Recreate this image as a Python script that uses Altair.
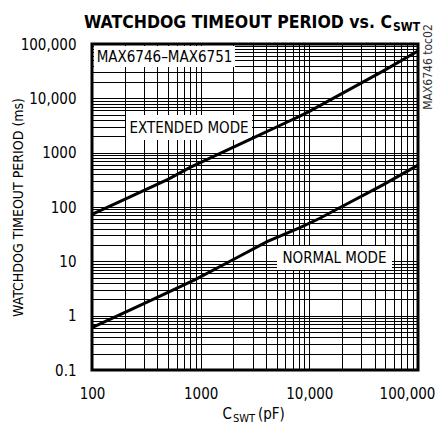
import altair as alt
import pandas as pd

# Extended mode curve (C in pF, timeout in ms)
ext_c = [100, 500, 800, 2850, 6200, 8200, 10100, 47600, 100000]
ext_t = [73, 322, 537, 1760, 3630, 4690, 5800, 31750, 74300]

# Normal mode curve
norm_c = [100, 356, 890, 1980, 4080, 8200, 12500, 19200, 47600, 100000]
norm_t = [0.6, 1.96, 4.6, 10.7, 23, 41.9, 62, 98, 255, 590]

x_decades = [100, 1000, 10000, 100000]
x_labels = ["100", "1000", "10,000", "100,000"]
y_decades = [0.1, 1, 10, 100, 1000, 10000, 100000]
y_labels = ["0.1", "1", "10", "100", "1000", "10,000", "100,000"]

FONT = "DejaVu Sans Condensed, Liberation Sans, sans-serif"


def grid_values(decades):
    vals = []
    for d in decades[:-1]:
        for m in range(1, 10):
            vals.append(round(d * m, 6))
    vals.append(decades[-1])
    return vals


def label_expr(vals, labels):
    parts = [f"datum.value == {v} ? '{l}'" for v, l in zip(vals, labels)]
    return " : ".join(parts) + " : ''"


df = pd.DataFrame({
    "c": ext_c + norm_c,
    "t": ext_t + norm_t,
    "mode": ["EXTENDED"] * len(ext_c) + ["NORMAL"] * len(norm_c),
})

x = alt.X("c:Q",
          scale=alt.Scale(type="log", domain=[100, 100000], nice=False),
          axis=alt.Axis(values=grid_values(x_decades),
                        labelExpr=label_expr(x_decades, x_labels),
                        grid=True, gridColor="black", gridWidth=1, gridOpacity=1,
                        ticks=False, domain=False, labelFlush=False, labelOverlap=False,
                        labelOffset={"condition": {"test": f"datum.value >= {x_decades[-1]}",
                                                   "value": -11}, "value": 0},
                        labelPadding=16, labelFontSize=15, labelFont=FONT,
                        labelColor="black", title=None))
y = alt.Y("t:Q",
          scale=alt.Scale(type="log", domain=[0.1, 100000], nice=False),
          axis=alt.Axis(values=grid_values(y_decades),
                        labelExpr=label_expr(y_decades, y_labels),
                        grid=True, gridColor="black", gridWidth=1, gridOpacity=1,
                        ticks=False, domain=False, labelFlush=False, labelOverlap=False,
                        labelPadding=16, labelFontSize=15, labelFont=FONT,
                        labelColor="black",
                        title="WATCHDOG TIMEOUT PERIOD (ms)",
                        titleFont=FONT, titleFontSize=14, titleFontWeight="normal",
                        titleColor="black", titleAngle=270, titleX=-74, titleY=163,
                        titleAlign="center", titleBaseline="middle"))

lines = alt.Chart(df).mark_line(color="black", strokeWidth=3).encode(
    x=x, y=y, detail="mode:N")

one = pd.DataFrame({"k": [0]})


def box(x1, x2, y1, y2):
    return alt.Chart(one).mark_rect(color="white").encode(
        x=alt.value(x1), x2=alt.value(x2), y=alt.value(y1), y2=alt.value(y2))


def txt(s, xp, yp, size=15, align="center", baseline="middle", weight="normal",
        angle=0, color="black"):
    return alt.Chart(pd.DataFrame({"s": [s]})).mark_text(
        font=FONT, fontSize=size, align=align, baseline=baseline,
        fontWeight=weight, angle=angle, color=color).encode(
        x=alt.value(xp), y=alt.value(yp), text="s:N")


layers = [
    box(2, 143, 2, 23), box(34, 160, 71, 96), box(185, 300, 202, 226),
    lines,
    txt("MAX6746\u2013MAX6751", 72.5, 13),
    txt("EXTENDED MODE", 97, 84),
    txt("NORMAL MODE", 242.5, 214),
    txt("MAX6746 toc02", 336, 23, size=12, angle=270, color="#333333"),
    txt("WATCHDOG TIMEOUT PERIOD vs. C", 300, -16, size=17.5, align="right",
        baseline="alphabetic", weight="bold"),
    txt("SWT", 301, -13, size=12, align="left", baseline="alphabetic", weight="bold"),
    txt("C", 140, 375, size=15, align="right", baseline="alphabetic"),
    txt("SWT", 141, 378, size=11, align="left", baseline="alphabetic"),
    txt("(pF)", 166, 375, size=15, align="left", baseline="alphabetic"),
]

chart = alt.layer(*layers).properties(
    width=326, height=326,
    autosize="none",
    padding={"left": 84, "top": 36, "right": 17, "bottom": 63},
).configure_view(stroke="black", strokeWidth=3)

chart.save("out.html", embed_options={"renderer": "svg", "actions": False})
